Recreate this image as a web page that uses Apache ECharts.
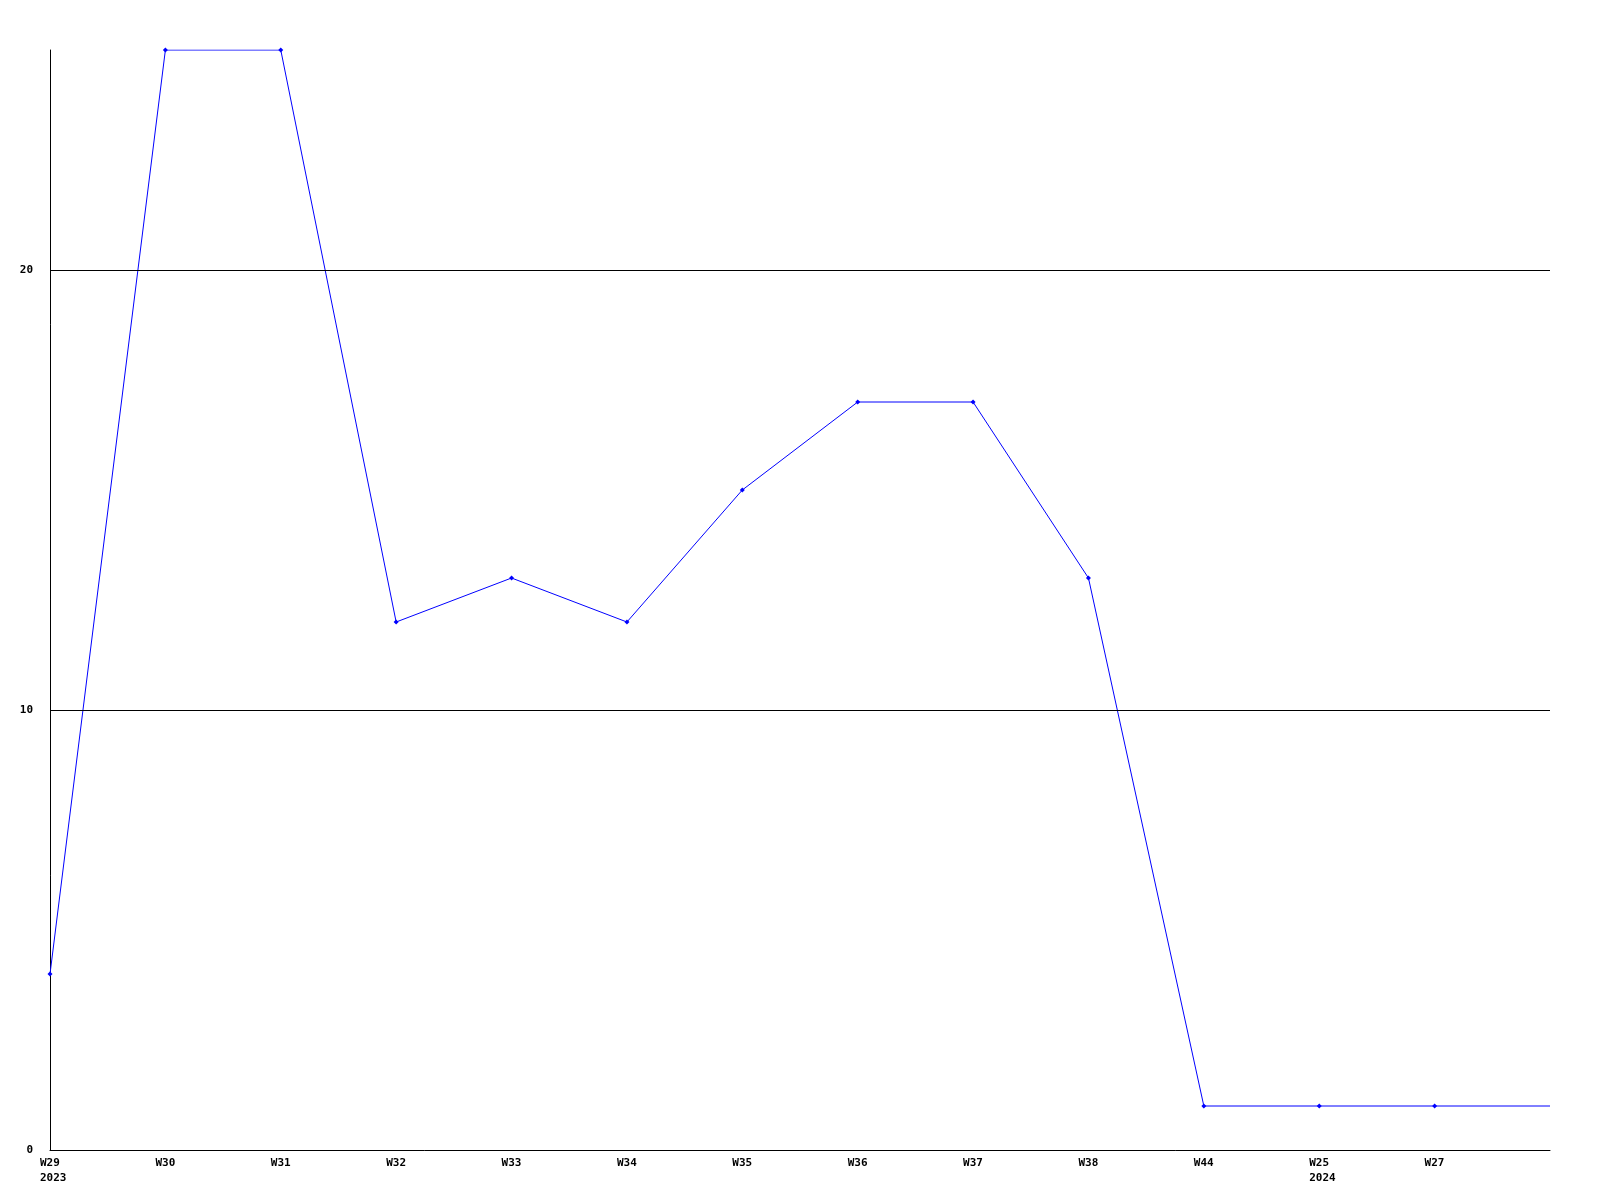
<!DOCTYPE html>
<html>
<head>
<meta charset="utf-8">
<script src="https://cdn.jsdelivr.net/npm/echarts@6/dist/echarts.min.js"></script>
<style>html,body{margin:0;padding:0;background:#fff}#c{width:1600px;height:1200px}</style>
</head>
<body>
<div id="c"></div>
<script>
var categories = ['W29', 'W30', 'W31', 'W32', 'W33', 'W34', 'W35', 'W36', 'W37', 'W38', 'W44', 'W25', 'W27', ''];
var years = ['2023', '', '', '', '', '', '', '', '', '', '', '2024', '', ''];
var values = [4, 25, 25, 12, 13, 12, 15, 17, 17, 13, 1, 1, 1, 1];
var gridLines = [10, 20];

var chart = echarts.init(document.getElementById('c'), null, {renderer: 'canvas'});
var seriesData = values.map(function (v, i) {
  return i === values.length - 1 ? {value: v, symbol: 'none'} : v;
});
var font = '"DejaVu Sans Mono", "Liberation Mono", monospace';
chart.setOption({
  animation: false,
  backgroundColor: '#ffffff',
  grid: {left: 50, right: 50, top: 50, bottom: 50, containLabel: false},
  xAxis: {
    type: 'category',
    data: categories,
    boundaryGap: false,
    axisLine: {lineStyle: {color: '#000', width: 1}},
    axisTick: {show: false},
    splitLine: {show: false},
    axisLabel: {
      interval: 0,
      margin: 6,
      color: '#000',
      fontFamily: font,
      fontWeight: 'bold',
      fontSize: 11,
      lineHeight: 15,
      formatter: function (val, idx) {
        var y = years[idx];
        if (y) return '{a|' + val + '}\n{a|' + y + '}';
        return '{a|' + val + '}';
      },
      rich: {
        a: {width: 20, align: 'left', fontFamily: font, fontWeight: 'bold', fontSize: 11, color: '#000', lineHeight: 15}
      }
    }
  },
  yAxis: {
    type: 'value',
    min: 0,
    max: 25,
    interval: 10,
    axisLine: {show: true, lineStyle: {color: '#000', width: 1}},
    axisTick: {show: false},
    splitLine: {show: false},
    axisLabel: {
      showMaxLabel: false,
      margin: 17,
      color: '#000',
      fontFamily: font,
      fontWeight: 'bold',
      fontSize: 11
    }
  },
  series: [{
    type: 'line',
    data: seriesData,
    symbol: 'diamond',
    symbolSize: 5,
    showAllSymbol: true,
    lineStyle: {color: '#0000ff', width: 1},
    itemStyle: {color: '#0000ff'},
    markLine: {
      silent: true,
      symbol: ['none', 'none'],
      label: {show: false},
      lineStyle: {color: '#000', width: 1, type: 'solid'},
      data: gridLines.map(function (g) { return {yAxis: g}; })
    }
  }]
});
</script>
</body>
</html>
